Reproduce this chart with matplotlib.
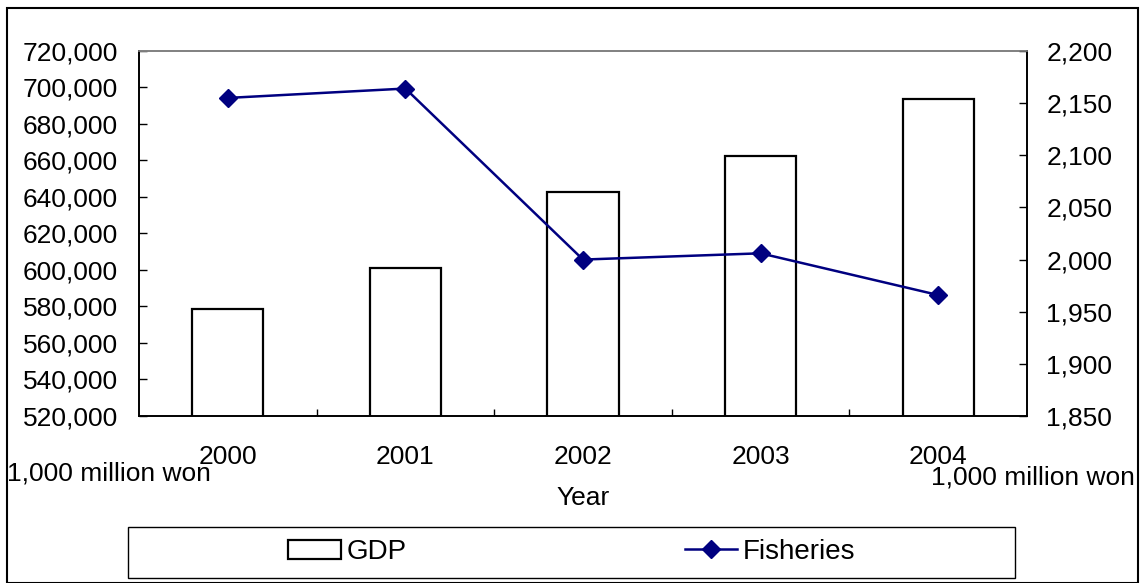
import matplotlib.pyplot as plt
from matplotlib.patches import Rectangle
from matplotlib.ticker import FuncFormatter, MultipleLocator
import numpy as np

plt.rcParams['font.family'] = ['Liberation Sans', 'DejaVu Sans']

years = ['2000', '2001', '2002', '2003', '2004']
gdp = [578600, 601000, 642700, 662500, 693600]
fisheries = [2155, 2164, 2000, 2006, 1966]

fs = 19
W, H = 1143, 583
x = np.arange(len(years))
comma = FuncFormatter(lambda v, p: f'{int(v):,}')

fig = plt.figure(figsize=(W / 100, H / 100), dpi=100)
ax = fig.add_axes([139 / W, 1 - 416 / H, 888 / W, 365 / H])
ax2 = ax.twinx()

bars = ax.bar(x, gdp, width=0.4, facecolor='white', edgecolor='black',
              linewidth=1.6, label='GDP')
line, = ax2.plot(x, fisheries, color='#000080', linewidth=1.8, marker='D',
                 markersize=9, label='Fisheries')

ax.set_xlim(-0.5, 4.5)
ax.set_ylim(520000, 720000)
ax.yaxis.set_major_locator(MultipleLocator(20000))
ax.yaxis.set_major_formatter(comma)
ax2.set_ylim(1850, 2200)
ax2.yaxis.set_major_locator(MultipleLocator(50))
ax2.yaxis.set_major_formatter(comma)

ax.set_xticks(x)
ax.set_xticklabels(years)
ax.set_xticks(x[:-1] + 0.5, minor=True)
ax.tick_params(axis='x', which='major', length=0, pad=21, labelsize=fs)
ax.tick_params(axis='x', which='minor', direction='in', length=5, width=1)
ax.tick_params(axis='y', direction='in', length=5.5, width=1, pad=15, labelsize=fs)
ax2.tick_params(axis='y', direction='in', length=5.5, width=1, pad=14, labelsize=fs)

for a in (ax, ax2):
    for s in a.spines.values():
        s.set_linewidth(1.2)
    a.spines['top'].set_color('#808080')

ax.set_xlabel('Year', fontsize=fs)
ax.xaxis.set_label_coords(0.5, -(498 - 416) / 365, transform=ax.transAxes)
ax.xaxis.label.set_va('center')

fig.text(7 / W, 1 - 473 / H, '1,000 million won', fontsize=fs,
         ha='left', va='center')
fig.text(1135 / W, 1 - 478 / H, '1,000 million won', fontsize=fs,
         ha='right', va='center')

# legend box with two centred entries
fig.patches.append(Rectangle((128 / W, 1 - 578 / H), 887 / W, 51 / H,
                             transform=fig.transFigure, fill=False,
                             edgecolor='black', linewidth=1.0))
fig.legend([bars, line], ['GDP', 'Fisheries'], ncol=2, loc='center',
           bbox_to_anchor=(572 / W, 1 - 552 / H), fontsize=20,
           frameon=False, handlelength=1.9, handletextpad=0.2,
           columnspacing=10.0)

fig.patches.append(Rectangle((7 / W, 0), 1131 / W, 575 / H,
                             transform=fig.transFigure, fill=False,
                             edgecolor='black', linewidth=1.5))

fig.savefig('out.png', dpi=100)
